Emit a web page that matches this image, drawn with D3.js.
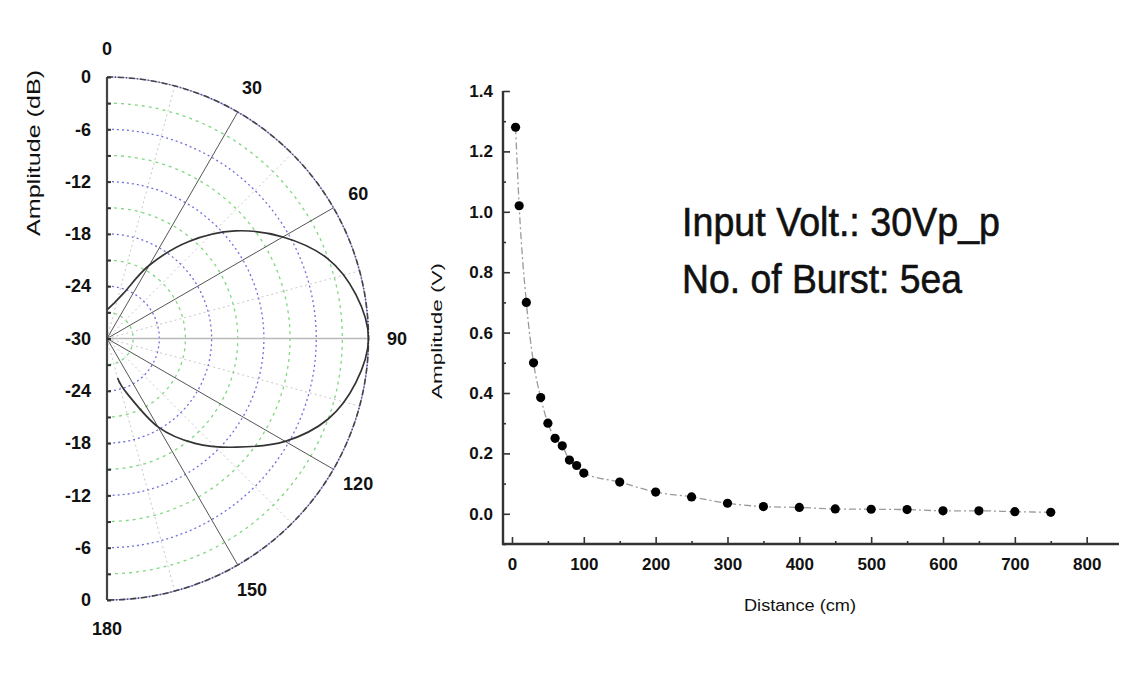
<!DOCTYPE html>
<html>
<head>
<meta charset="utf-8">
<script src="https://cdn.jsdelivr.net/npm/d3@7"></script>
<style>
  body { margin: 0; background: #fff; }
  text { font-family: "Liberation Sans", Arial, sans-serif; fill: #111; }
</style>
</head>
<body>
<script>
// polar beam pattern (angle in degrees, amplitude in dB)
const beamAngles = [0, 10, 20, 30, 40, 50, 60, 70, 80, 90, 100, 110, 120, 130, 140, 150, 160, 165];
const beamDb = [-26.7, -26, -24.5, -20.3, -15.5, -10.8, -6.7, -3.1, -1, 0, -1, -3, -6.4, -10.6, -14.3, -18.3, -23.3, -25.3];
const angleLabels = [0, 30, 60, 90, 120, 150, 180];
const dbTicks = [0, -6, -12, -18, -24, -30];

// amplitude vs distance
const distance = [5, 10, 20, 30, 40, 50, 60, 70, 80, 90, 100, 150, 200, 250, 300, 350, 400, 450, 500, 550, 600, 650, 700, 750];
const amplitude = [1.28, 1.02, 0.70, 0.50, 0.385, 0.30, 0.25, 0.225, 0.178, 0.16, 0.135, 0.105, 0.072, 0.056, 0.035, 0.024, 0.021, 0.016, 0.015, 0.014, 0.01, 0.01, 0.007, 0.005];
const xTicks = [0, 100, 200, 300, 400, 500, 600, 700, 800];
const yTicks = [0.0, 0.2, 0.4, 0.6, 0.8, 1.0, 1.2, 1.4];
const noteLines = ["Input Volt.: 30Vp_p", "No. of Burst: 5ea"];

const width = 1133, height = 677;
const svg = d3.select("body").append("svg")
    .attr("width", width)
    .attr("height", height);

// ---------- polar chart ----------
const cx = 107, cy = 338.5, R = 261.5;
const r = d3.scaleLinear().domain([-30, 0]).range([0, R]);
const rad = d => d * Math.PI / 180;

const polar = svg.append("g").attr("transform", "translate(" + cx + "," + cy + ")");

function halfCircle(radius) {
    const p = d3.path();
    p.moveTo(0, -radius);
    p.arc(0, 0, radius, -Math.PI / 2, Math.PI / 2);
    return p.toString();
}

// faint radial guides
[15, 45, 75, 105, 135, 165].forEach(a => {
    polar.append("line")
        .attr("x2", R * Math.sin(rad(a)))
        .attr("y2", -R * Math.cos(rad(a)))
        .attr("stroke", "#c8c8c8")
        .attr("stroke-width", 1)
        .attr("stroke-dasharray", "2,3");
});

// grid circles: blue at every 6 dB, green in between
d3.range(-27, 0, 3).forEach(v => {
    const major = (v % 6 === 0);
    polar.append("path")
        .attr("d", halfCircle(r(v)))
        .attr("fill", "none")
        .attr("stroke", major ? "#7070dc" : "#80d880")
        .attr("stroke-width", 1.3)
        .attr("stroke-dasharray", major ? "2,3" : "3,4");
});

// main radial lines
[30, 60, 120, 150].forEach(a => {
    polar.append("line")
        .attr("x2", R * Math.sin(rad(a)))
        .attr("y2", -R * Math.cos(rad(a)))
        .attr("stroke", "#555")
        .attr("stroke-width", 1);
});
polar.append("line")
    .attr("x2", R)
    .attr("stroke", "#b8b8b8")
    .attr("stroke-width", 1.5);

// outer edge
polar.append("path")
    .attr("d", halfCircle(R))
    .attr("fill", "none")
    .attr("stroke", "#9a9ae8")
    .attr("stroke-width", 1.2);
polar.append("path")
    .attr("d", halfCircle(R))
    .attr("fill", "none")
    .attr("stroke", "#444")
    .attr("stroke-width", 1.6)
    .attr("stroke-dasharray", "6,2,1,2");

// beam pattern curve
const beam = beamAngles.map((a, i) => ({a: a, db: beamDb[i]}));
const radial = d3.lineRadial()
    .angle(d => rad(d.a))
    .radius(d => r(d.db))
    .curve(d3.curveCardinal);
polar.append("path")
    .datum(beam)
    .attr("d", radial)
    .attr("fill", "none")
    .attr("stroke", "#333")
    .attr("stroke-width", 1.7);

// left amplitude axis (mirrored)
const yTop = d3.scaleLinear().domain([0, -30]).range([cy - R, cy]);
const yBot = d3.scaleLinear().domain([-30, 0]).range([cy, cy + R]);

svg.append("line")
    .attr("x1", cx).attr("x2", cx)
    .attr("y1", cy - R).attr("y2", cy + R)
    .attr("stroke", "#444")
    .attr("stroke-width", 2.2);

[yTop, yBot].forEach((sc, k) => {
    const ax = svg.append("g")
        .attr("transform", "translate(" + cx + ",0)")
        .call(d3.axisLeft(sc)
            .tickValues(k === 0 ? dbTicks : dbTicks.slice(0, 5))
            .tickSize(0)
            .tickPadding(16)
            .tickFormat(d => String(d)));
    ax.select(".domain").remove();
    ax.selectAll("text")
        .attr("font-size", 18)
        .attr("font-weight", "bold")
        .style("font-family", "'Liberation Sans', Arial, sans-serif");

    const tk = svg.append("g")
        .attr("transform", "translate(" + cx + ",0)")
        .call(d3.axisRight(sc).tickValues(d3.range(-30, 1, 3)).tickSize(4).tickFormat(""));
    tk.select(".domain").remove();
    tk.selectAll("line").attr("stroke", "#333").attr("stroke-width", 2);
});

svg.append("text")
    .attr("transform", "translate(40,153) rotate(-90)")
    .attr("text-anchor", "middle")
    .attr("font-size", 19)
    .attr("textLength", 166)
    .attr("lengthAdjust", "spacingAndGlyphs")
    .text("Amplitude (dB)");

// angle labels
const labelR = 290;
angleLabels.forEach(a => {
    svg.append("text")
        .attr("x", cx + labelR * Math.sin(rad(a)))
        .attr("y", cy - labelR * Math.cos(rad(a)))
        .attr("dy", "0.35em")
        .attr("text-anchor", "middle")
        .attr("font-size", 18)
        .attr("font-weight", "bold")
        .text(a);
});

// ---------- distance chart ----------
const x = d3.scaleLinear().domain([-12.5, 845]).range([503, 1119]);
const y = d3.scaleLinear().domain([-0.1, 1.4]).range([544, 91]);

const pts = distance.map((d, i) => ({d: d, v: amplitude[i]}));

// connecting line
svg.append("path")
    .datum(pts)
    .attr("d", d3.line().x(p => x(p.d)).y(p => y(p.v)).curve(d3.curveMonotoneX))
    .attr("fill", "none")
    .attr("stroke", "#9a9a9a")
    .attr("stroke-width", 1.3)
    .attr("stroke-dasharray", "7,3,2,3");

svg.selectAll("circle.pt")
    .data(pts)
    .enter().append("circle")
    .attr("class", "pt")
    .attr("cx", p => x(p.d))
    .attr("cy", p => y(p.v))
    .attr("r", 4.6)
    .attr("fill", "#000");

// x axis
const xAxis = svg.append("g")
    .attr("transform", "translate(0," + y(-0.1) + ")")
    .call(d3.axisBottom(x).tickValues(xTicks).tickSize(0).tickPadding(14).tickFormat(d3.format("d")));
xAxis.select(".domain").remove();
xAxis.selectAll("text").attr("font-size", 17).attr("font-weight", "bold");

const xMinor = svg.append("g")
    .attr("transform", "translate(0," + y(-0.1) + ")")
    .call(d3.axisTop(x).tickValues(d3.range(0, 801, 50)).tickSize(0).tickFormat(""));
xMinor.select(".domain").remove();
xMinor.selectAll(".tick line")
    .attr("y2", (d) => d % 100 === 0 ? -7 : -3)
    .attr("stroke", "#333")
    .attr("stroke-width", 1.6);

svg.append("line")
    .attr("x1", x.range()[0] - 1).attr("x2", x.range()[1])
    .attr("y1", y(-0.1)).attr("y2", y(-0.1))
    .attr("stroke", "#333")
    .attr("stroke-width", 2.4);

// y axis
const yAxis = svg.append("g")
    .attr("transform", "translate(" + x(-12.5) + ",0)")
    .call(d3.axisLeft(y).tickValues(yTicks).tickSize(0).tickPadding(10).tickFormat(d3.format(".1f")));
yAxis.select(".domain").remove();
yAxis.selectAll("text").attr("font-size", 17).attr("font-weight", "bold");

const yMinor = svg.append("g")
    .attr("transform", "translate(" + x(-12.5) + ",0)")
    .call(d3.axisRight(y).tickValues(d3.range(-0.1, 1.41, 0.1)).tickSize(0).tickFormat(""));
yMinor.select(".domain").remove();
yMinor.selectAll(".tick line")
    .attr("x2", (d, i) => (i % 2 === 1) ? 7 : 3)
    .attr("stroke", "#333")
    .attr("stroke-width", 1.6);

svg.append("line")
    .attr("x1", x(-12.5)).attr("x2", x(-12.5))
    .attr("y1", y(1.4)).attr("y2", y(-0.1) + 1)
    .attr("stroke", "#333")
    .attr("stroke-width", 2.4);

svg.append("text")
    .attr("transform", "translate(442,331) rotate(-90)")
    .attr("text-anchor", "middle")
    .attr("font-size", 14)
    .attr("textLength", 136)
    .attr("lengthAdjust", "spacingAndGlyphs")
    .text("Amplitude (V)");

svg.append("text")
    .attr("x", 800)
    .attr("y", 611)
    .attr("text-anchor", "middle")
    .attr("font-size", 16)
    .attr("textLength", 112)
    .attr("lengthAdjust", "spacingAndGlyphs")
    .text("Distance (cm)");

// annotation
svg.selectAll("text.note")
    .data(noteLines)
    .enter().append("text")
    .attr("class", "note")
    .attr("x", 682)
    .attr("y", (d, i) => 236 + i * 57)
    .attr("font-size", 40)
    .attr("stroke", "#111")
    .attr("stroke-width", 0.6)
    .attr("textLength", (d, i) => i === 0 ? 318 : 280)
    .attr("lengthAdjust", "spacingAndGlyphs")
    .text(d => d);
</script>
</body>
</html>
